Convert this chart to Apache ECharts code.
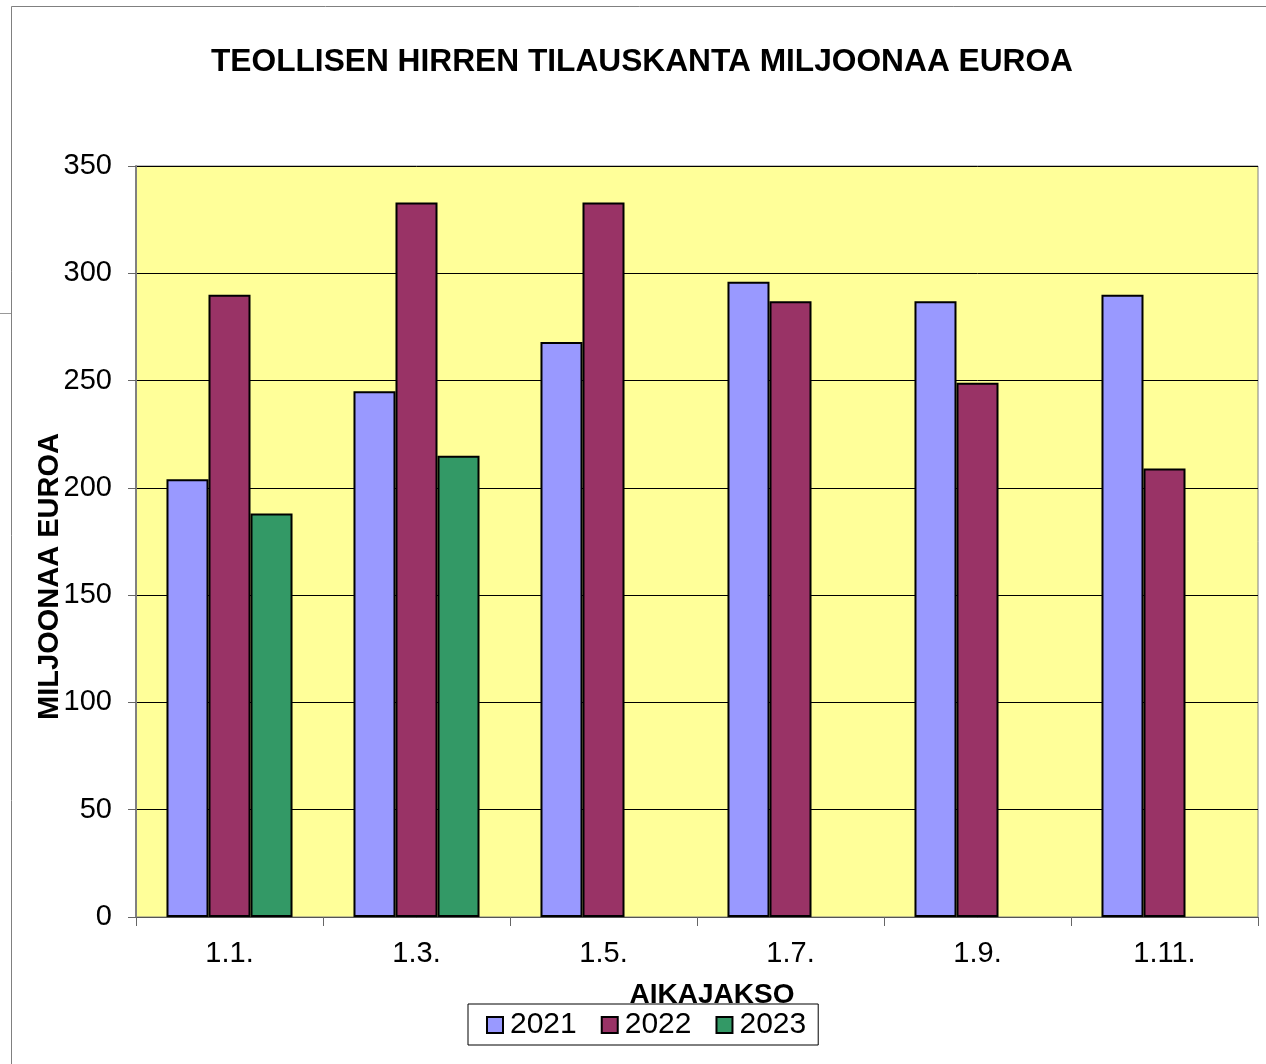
<!DOCTYPE html>
<html>
<head>
<meta charset="utf-8">
<script src="https://cdn.jsdelivr.net/npm/echarts@6/dist/echarts.min.js"></script>
<style>
  html, body { margin: 0; padding: 0; background: #fff; }
  #chart { width: 1266px; height: 1064px; }
</style>
</head>
<body>
<div id="chart"></div>
<script>
// aikajaksot
var categories = ["1.1.", "1.3.", "1.5.", "1.7.", "1.9.", "1.11."];
// tilauskanta, milj. euroa
var values2021 = [204, 245, 268, 296, 287, 290];
var values2022 = [290, 333, 333, 287, 249, 209];
var values2023 = [188, 215, null, null, null, null];
var yTicks = { min: 0, max: 350, interval: 50 };

var barBorder = { borderColor: "#000", borderWidth: 2 };
var font = "Liberation Sans, Arial, sans-serif";

var chart = echarts.init(document.getElementById("chart"));
chart.setOption({
  animation: false,
  backgroundColor: "#fff",
  textStyle: { fontFamily: font, color: "#000" },
  title: {
    text: "TEOLLISEN HIRREN TILAUSKANTA MILJOONAA EUROA",
    left: 637,
    textAlign: "center",
    top: 41,
    textStyle: { fontSize: 31.7, fontWeight: "bold", color: "#000", fontFamily: font },
  },
  // kehyslinjat
  graphic: [
    {
      type: "rect",
      shape: { x: 11.5, y: 6.5, width: 1400, height: 1200 },
      style: { fill: null, stroke: "#808080", lineWidth: 1 },
      silent: true,
    },
    {
      type: "line",
      shape: { x1: 0, y1: 313.5, x2: 11, y2: 313.5 },
      style: { stroke: "#999", lineWidth: 1 },
      silent: true,
    },
  ],
  grid: {
    show: true,
    left: 136,
    right: 8,
    top: 166,
    bottom: 147,
    backgroundColor: "#FFFF99",
    borderColor: "#808080",
    borderWidth: 1,
  },
  legend: {
    left: 468,
    top: 1004,
    itemWidth: 16,
    itemHeight: 16,
    itemGap: 24,
    padding: [6, 12, 5, 18],
    borderColor: "#000",
    borderWidth: 1,
    icon: "rect",
    textStyle: { fontSize: 30, color: "#000", fontFamily: font, padding: [0, 0, 0, 2] },
    data: ["2021", "2022", "2023"],
  },
  xAxis: {
    type: "category",
    data: categories,
    name: "AIKAJAKSO",
    nameLocation: "middle",
    nameGap: 64,
    nameMoveOverlap: false,
    nameTextStyle: { fontSize: 28, fontWeight: "bold", color: "#000", padding: [0, 0, 0, 30] },
    axisLine: { lineStyle: { color: "#555", width: 1 } },
    axisTick: { show: true, length: 9, lineStyle: { color: "#666" } },
    axisLabel: { fontSize: 29, color: "#000", margin: 22 },
  },
  yAxis: {
    type: "value",
    min: yTicks.min,
    max: yTicks.max,
    interval: yTicks.interval,
    name: "MILJOONAA EUROA",
    nameLocation: "middle",
    nameGap: 72,
    nameMoveOverlap: false,
    nameTextStyle: { fontSize: 29, fontWeight: "bold", color: "#000", padding: [0, 70, 0, 0] },
    axisLine: { show: true, lineStyle: { color: "#808080", width: 2 } },
    axisTick: { show: true, length: 8, lineStyle: { color: "#666" } },
    axisLabel: { fontSize: 29, color: "#000", margin: 24 },
    splitLine: { show: true, lineStyle: { color: "#000", width: 1 } },
  },
  series: [
    {
      name: "2021",
      type: "bar",
      data: values2021,
      barGap: "0%",
      barCategoryGap: "32.6%",
      itemStyle: Object.assign({ color: "#9999FF" }, barBorder),
    },
    {
      name: "2022",
      type: "bar",
      data: values2022,
      itemStyle: Object.assign({ color: "#993366" }, barBorder),
    },
    {
      name: "2023",
      type: "bar",
      data: values2023,
      itemStyle: Object.assign({ color: "#339966" }, barBorder),
    },
  ],
});
</script>
</body>
</html>
